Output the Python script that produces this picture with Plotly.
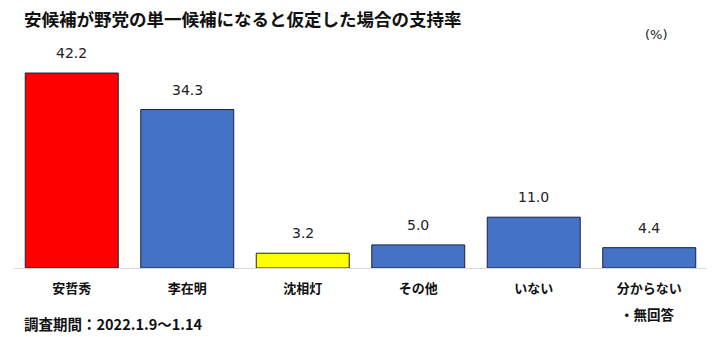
import plotly.graph_objects as go

categories = ["安哲秀", "李在明", "沈相灯", "その他", "いない", "分からない"]
values = [42.2, 34.3, 3.2, 5.0, 11.0, 4.4]
colors = ["#FF0000", "#4472C4", "#FFFF00", "#4472C4", "#4472C4", "#4472C4"]
value_labels = ["42.2", "34.3", "3.2", "5.0", "11.0", "4.4"]

FONT = "Noto Sans CJK JP"
NUMFONT = "DejaVu Sans"

fig = go.Figure()
fig.add_trace(go.Bar(
    x=categories, y=values,
    marker=dict(color=colors, line=dict(color="#1A2040", width=1)),
    hoverinfo="skip",
))

for c, v, t in zip(categories, values, value_labels):
    fig.add_annotation(x=c, y=v, text=t, showarrow=False, yshift=20,
                       font=dict(family=NUMFONT, size=14, color="#222222"))

fig.add_annotation(xref="paper", yref="paper", x=0.012, y=1.0, yshift=19,
                   xanchor="left", yanchor="middle", showarrow=False,
                   text="<b>安候補が野党の単一候補になると仮定した場合の支持率</b>",
                   font=dict(family=FONT, size=17.5, color="#111111"))
fig.add_annotation(xref="paper", yref="paper", x=0.927, y=1.0, yshift=3,
                   xanchor="center", yanchor="middle", showarrow=False,
                   text="(%)", font=dict(family=NUMFONT, size=13, color="#222222"))
fig.add_annotation(xref="paper", yref="paper", x=0.012, y=0, yshift=-55,
                   xanchor="left", yanchor="middle", showarrow=False,
                   text="<b>調査期間：2022.1.9～1.14</b>",
                   font=dict(family=FONT, size=14.5, color="#111111"))
fig.add_annotation(xref="paper", yref="paper", x=0.914, y=0, yshift=-46,
                   xanchor="center", yanchor="middle", showarrow=False,
                   text="<b>・無回答</b>",
                   font=dict(family=FONT, size=13.5, color="#111111"))

fig.update_layout(
    width=720, height=337,
    margin=dict(l=14, r=13, t=37, b=69),
    paper_bgcolor="white", plot_bgcolor="white",
    bargap=0.195,
    showlegend=False,
    xaxis=dict(showgrid=False, showline=True, linecolor="#D9D9D9", linewidth=1,
               ticks="", ticklabelstandoff=8,
               tickfont=dict(family=FONT, size=13, color="#111111"),
               tickvals=categories, ticktext=["<b>%s</b>" % c for c in categories]),
    yaxis=dict(range=[0, 50], visible=False, showgrid=False),
)

fig.write_html("out.html")
